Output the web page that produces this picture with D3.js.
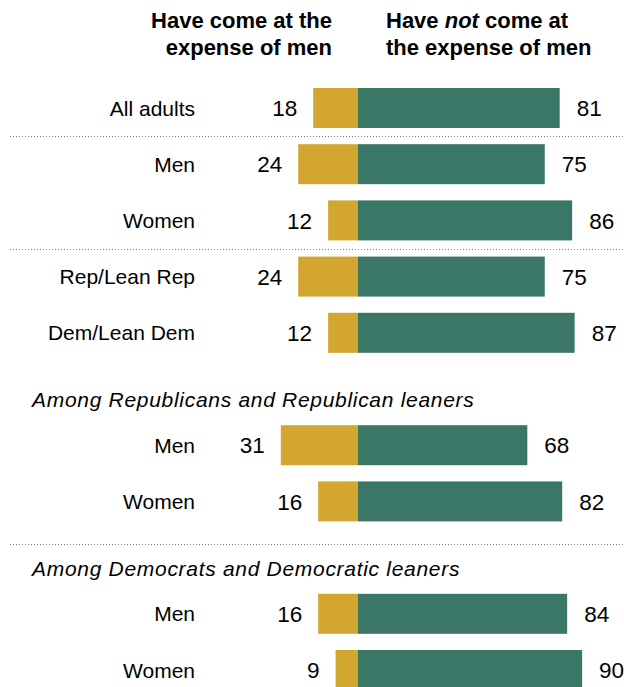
<!DOCTYPE html>
<html>
<head>
<meta charset="utf-8">
<script src="https://cdn.jsdelivr.net/npm/d3@7"></script>
<style>
  body { margin: 0; background: #fff; }
  text { font-family: "Liberation Sans", Arial, sans-serif; fill: #000; }
  .hdr { font-weight: bold; font-size: 22px; }
  .lbl { font-size: 21px; }
  .val { font-size: 22.5px; }
  .sect { font-size: 21px; font-style: italic; letter-spacing: 0.7px; }
</style>
</head>
<body>
<div id="chart"></div>
<script>
// Data.
var rowLabels = ["All adults", "Men", "Women", "Rep/Lean Rep", "Dem/Lean Dem", "Men", "Women", "Men", "Women"];
var cameAtExpense = [18, 24, 12, 24, 12, 31, 16, 16, 9];
var notAtExpense = [81, 75, 86, 75, 87, 68, 82, 84, 90];
var rowSection = [0, 1, 1, 2, 2, 3, 3, 4, 4];
var sectionTitles = ["", "", "", "Among Republicans and Republican leaners", "Among Democrats and Democratic leaners"];

var width = 624, height = 687;
var yellow = "#d3a62f", green = "#3a7767";

// Work out a slot for each row; titled sections get an extra slot for the heading.
var rows = [], headings = [], rules = [];
var slot = -1;
sectionTitles.forEach(function(title, s) {
  if (s > 0) {
    rules.push(title ? slot + 0.75 : slot + 0.5);
  }
  if (title) {
    slot += 1;
    headings.push({ title: title, slot: slot });
  }
  rowLabels.forEach(function(label, i) {
    if (rowSection[i] == s) {
      slot += 1;
      rows.push({ label: label, yes: cameAtExpense[i], no: notAtExpense[i], slot: slot });
    }
  });
});
// the dotted rule between the party rows and the Republican heading is not drawn
rules = rules.filter(function(r, k) { return !(sectionTitles[k + 1] && !sectionTitles[k]); });

var yScale = d3.scaleLinear().domain([0, slot]).range([108, 670]);
var barH = 40;

var center = 358;
var xLeft = d3.scaleLinear().domain([0, 100]).range([center, center - 249]);
var xRight = d3.scaleLinear().domain([0, 100]).range([center, center + 249]);

var svg = d3.select("#chart").append("svg")
  .attr("width", width)
  .attr("height", height);

// Column headers.
var h1 = svg.append("text").attr("class", "hdr").attr("text-anchor", "end").attr("x", 332);
h1.append("tspan").attr("x", 332).attr("y", 28).text("Have come at the");
h1.append("tspan").attr("x", 332).attr("y", 55).text("expense of men");

var h2 = svg.append("text").attr("class", "hdr").attr("x", 386);
var l1 = h2.append("tspan").attr("x", 386).attr("y", 28);
l1.append("tspan").text("Have ");
l1.append("tspan").style("font-style", "italic").text("not");
l1.append("tspan").text(" come at");
h2.append("tspan").attr("x", 386).attr("y", 55).text("the expense of men");

// Dotted separators.
svg.selectAll(".rule")
  .data(rules)
  .enter().append("line")
  .attr("class", "rule")
  .attr("x1", 10).attr("x2", width)
  .attr("y1", function(d) { return Math.round(yScale(d)) + 0.5; })
  .attr("y2", function(d) { return Math.round(yScale(d)) + 0.5; })
  .attr("stroke", "#7a7a7a")
  .attr("stroke-width", 1.2)
  .attr("stroke-dasharray", "1,2");

// Section headings.
svg.selectAll(".sect")
  .data(headings)
  .enter().append("text")
  .attr("class", "sect")
  .attr("x", 32)
  .attr("y", function(d) { return yScale(d.slot) + 18; })
  .text(function(d) { return d.title; });

var g = svg.selectAll(".row")
  .data(rows)
  .enter().append("g")
  .attr("class", "row")
  .attr("transform", function(d) { return "translate(0," + yScale(d.slot) + ")"; });

g.append("rect")
  .attr("x", function(d) { return xLeft(d.yes); })
  .attr("y", -barH / 2)
  .attr("width", function(d) { return center - xLeft(d.yes); })
  .attr("height", barH)
  .attr("fill", yellow);

g.append("rect")
  .attr("x", center)
  .attr("y", -barH / 2)
  .attr("width", function(d) { return xRight(d.no) - center; })
  .attr("height", barH)
  .attr("fill", green);

g.append("text")
  .attr("class", "lbl")
  .attr("x", 195)
  .attr("dy", "0.36em")
  .attr("text-anchor", "end")
  .text(function(d) { return d.label; });

g.append("text")
  .attr("class", "val")
  .attr("x", function(d) { return xLeft(d.yes) - 16; })
  .attr("dy", "0.36em")
  .attr("text-anchor", "end")
  .text(function(d) { return d.yes; });

g.append("text")
  .attr("class", "val")
  .attr("x", function(d) { return xRight(d.no) + 17; })
  .attr("dy", "0.36em")
  .text(function(d) { return d.no; });
</script>
</body>
</html>
